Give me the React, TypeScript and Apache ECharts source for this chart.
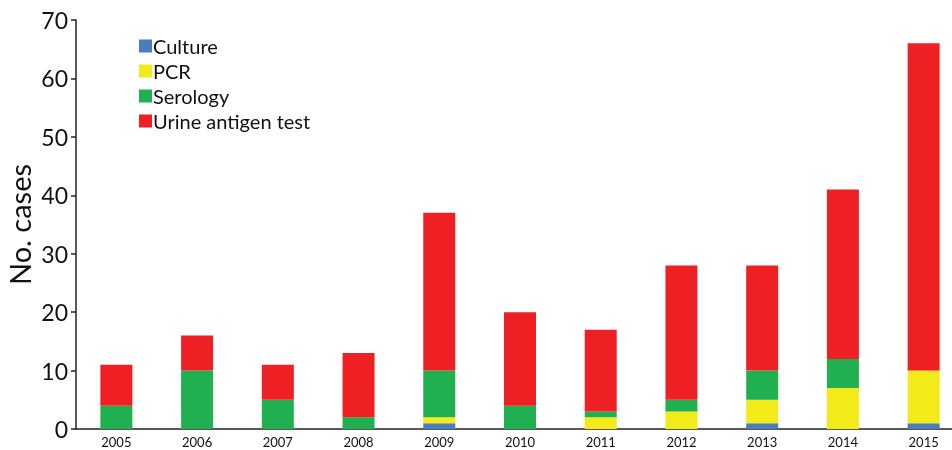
import React, { useEffect, useRef } from "react";
import * as echarts from "echarts";

const years = ["2005", "2006", "2007", "2008", "2009", "2010", "2011", "2012", "2013", "2014", "2015"];
const culture = [0, 0, 0, 0, 1, 0, 0, 0, 1, 0, 1];
const pcr = [0, 0, 0, 0, 1, 0, 2, 3, 4, 7, 9];
const serology = [4, 10, 5, 2, 8, 4, 1, 2, 5, 5, 0];
const urine = [7, 6, 6, 11, 27, 16, 14, 23, 18, 29, 56];
const yTicks = [0, 10, 20, 30, 40, 50, 60, 70];

const FONT = "Lato, 'Open Sans', sans-serif";

export default function App() {
  const ref = useRef<HTMLDivElement>(null);
  useEffect(() => {
    if (!ref.current) return;
    const chart = echarts.init(ref.current, null, { renderer: "svg" });
    const mk = (name: string, data: number[], color: string) => ({
      name,
      type: "bar",
      stack: "total",
      data,
      barWidth: 32,
      itemStyle: { color },
      emphasis: { disabled: true },
    });
    chart.setOption({
      animation: false,
      textStyle: { fontFamily: FONT },
      grid: {
        left: 76,
        top: 20,
        bottom: 21,
        right: -12,
        containLabel: false,
        outerBoundsMode: "none",
      },
      legend: {
        orient: "vertical",
        left: 134,
        top: 31,
        itemWidth: 13,
        itemHeight: 13,
        itemGap: 5,
        icon: "rect",
        data: ["Culture", "PCR", "Serology", "Urine antigen test"],
        textStyle: { fontSize: 20, color: "#111", fontFamily: FONT, padding: [0, 0, 0, -4] },
      },
      xAxis: {
        type: "category",
        data: years,
        axisLine: { lineStyle: { color: "#222", width: 1.5 } },
        axisTick: { show: false },
        axisLabel: { fontSize: 13, color: "#111", margin: 6, fontFamily: FONT },
      },
      yAxis: {
        type: "value",
        min: yTicks[0],
        max: yTicks[yTicks.length - 1],
        interval: 10,
        name: "No. cases",
        nameLocation: "middle",
        nameGap: 42,
        nameMoveOverlap: false,
        nameTextStyle: { fontSize: 29, lineHeight: 29, color: "#111", fontFamily: FONT },
        axisLine: { show: true, lineStyle: { color: "#222", width: 1.5 } },
        axisTick: { show: true, length: 5, lineStyle: { color: "#222", width: 1.5 } },
        axisLabel: { fontSize: 23, color: "#111", margin: 8, fontFamily: FONT },
        splitLine: { show: false },
      },
      series: [
        mk("Culture", culture, "#4a7dc0"),
        mk("PCR", pcr, "#f2ea19"),
        mk("Serology", serology, "#21b04f"),
        mk("Urine antigen test", urine, "#ee2024"),
      ],
    });
    return () => chart.dispose();
  }, []);
  return <div ref={ref} style={{ width: 952, height: 450, position: "fixed", left: 0, top: 0 }} />;
}
